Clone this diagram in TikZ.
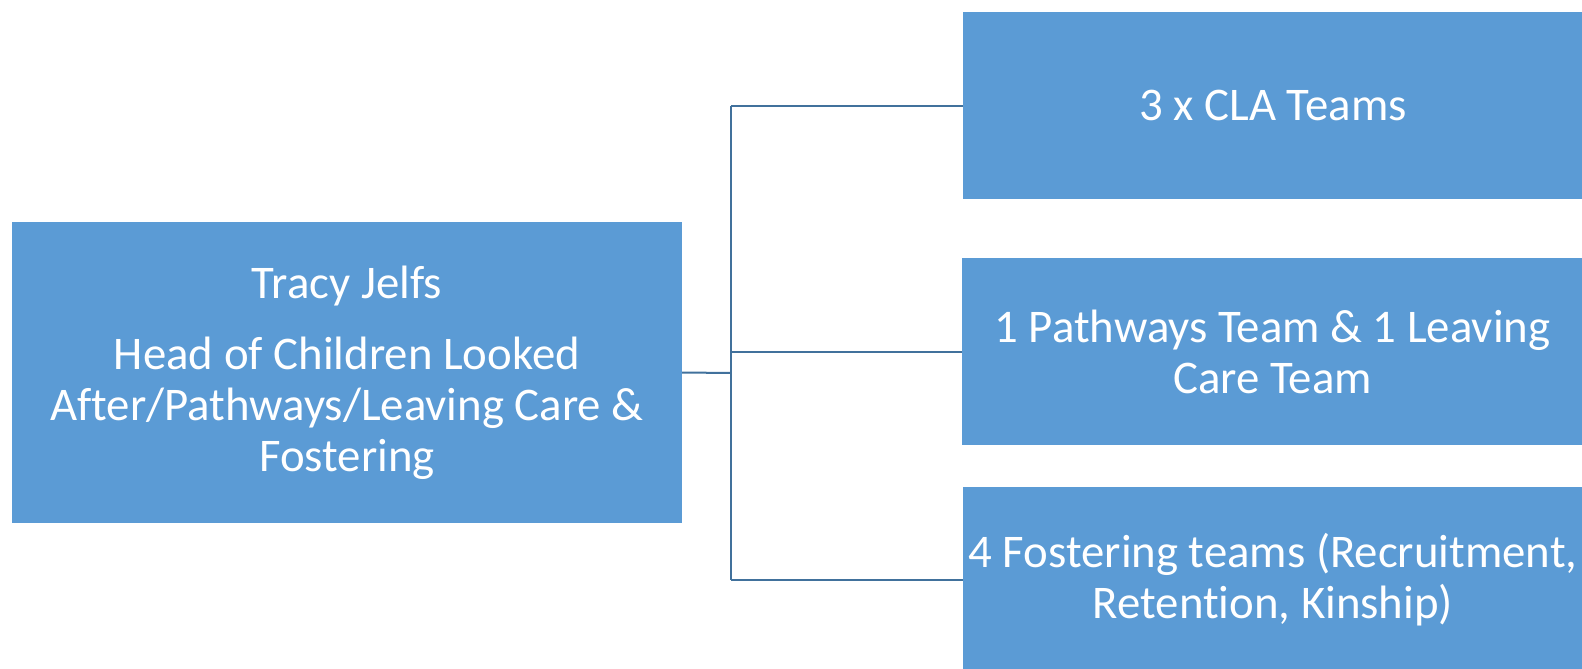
\documentclass[tikz,border=0pt]{standalone}
\usepackage{fontspec}
\setmainfont[Ligatures=CommonOff]{Carlito}
\definecolor{boxblue}{HTML}{5B9BD5}
\definecolor{linkblue}{HTML}{41719C}
\begin{document}
\begin{tikzpicture}[x=1pt,y=-1pt,
  box/.style={fill=boxblue, draw=none, text=white, align=center, inner sep=0pt,
    font=\fontsize{46.8}{51}\selectfont},
  link/.style={draw=linkblue, line width=2pt}]
\useasboundingbox (0,0) rectangle (1582,669);
\node[box, minimum width=670, minimum height=301] (lead) at (347,372.5)
  {Tracy Jelfs\\[20pt]Head of Children Looked\\After/Pathways/Leaving Care \&\\Fostering};
\node[box, minimum width=620, minimum height=187] (b1) at (1273,105.5) {3 x CLA Teams};
\node[box, minimum width=621, minimum height=187] (b2) at (1272.5,351.5) {1 Pathways Team \& 1 Leaving\\Care Team};
\node[box, minimum width=620, minimum height=186] (b3) at (1273,580) {4 Fostering teams (Recruitment,\\Retention, Kinship)};
\coordinate (j) at (731,373);
\draw[link] (lead.east) -- (j);
\draw[link] (j |- b1.west) -- (j |- b3.west);
\draw[link] (j |- b1.west) -- (b1.west);
\draw[link] (j |- b2.west) -- (b2.west);
\draw[link] (j |- b3.west) -- (b3.west);
\end{tikzpicture}
\end{document}
